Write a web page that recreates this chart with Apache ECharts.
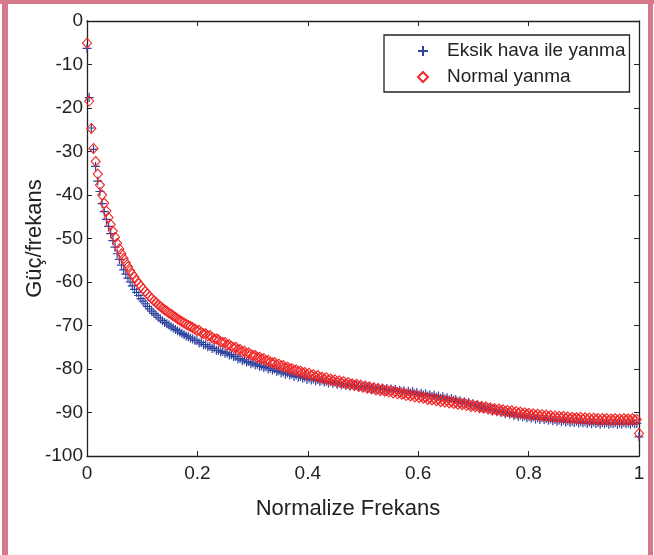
<!DOCTYPE html>
<html>
<head>
<meta charset="utf-8">
<script src="https://cdn.jsdelivr.net/npm/echarts@6/dist/echarts.min.js"></script>
<style>
  html, body { margin: 0; padding: 0; background: #fff; }
  #chart { width: 654px; height: 555px; }
  .band { position: absolute; background: #d4788a; }
</style>
</head>
<body>
<div class="band" style="left:0;top:0;width:654px;height:4px"></div>
<div class="band" style="left:2px;top:0;width:6px;height:555px"></div>
<div class="band" style="left:648px;top:0;width:5px;height:555px"></div>
<div id="chart"></div>
<script>
// Güç spektrumu, 257 frekans noktasi (0..1 normalize)
const seriesNames = ['Eksik hava ile yanma', 'Normal yanma']

const powerEksik = [
  -6.3, -17.6, -24.6, -29.5, -33.4, -36.8, -39.2, -42.0, -43.8, -45.6, -47.2,
  -48.9, -50.5, -52.0, -53.5, -54.8,
  -56.1, -57.2, -58.2, -59.1, -60.0,
  -60.9, -61.7, -62.4, -63.1, -63.8,
  -64.4, -65.0, -65.6, -66.2, -66.7,
  -67.2, -67.6, -68.1, -68.5, -68.9,
  -69.3, -69.6, -69.9, -70.3, -70.6,
  -70.9, -71.2, -71.5, -71.8, -72.1,
  -72.4, -72.6, -72.9, -73.1, -73.4,
  -73.5, -74.0, -73.9, -74.4, -74.4, -74.9, -74.8, -75.3, -75.2, -75.7,
  -75.7, -76.1, -76.0, -76.4, -76.3, -76.8, -76.7, -77.2, -77.1, -77.7,
  -77.6, -78.1, -77.9, -78.4, -78.3, -78.8, -78.6, -79.1, -78.9, -79.4,
  -79.3, -79.7, -79.5, -80.0, -79.8, -80.3, -80.0, -80.6, -80.4, -80.9,
  -80.7, -81.2, -80.9, -81.4, -81.2, -81.7, -81.4, -81.9, -81.7, -82.1,
  -81.9, -82.4, -82.1, -82.5, -82.3, -82.7, -82.4, -82.9, -82.6, -83.0,
  -82.8, -83.2, -82.9, -83.3, -83.0, -83.5, -83.2, -83.7, -83.4, -83.8,
  -83.5, -83.9, -83.6, -84.0, -83.8, -84.2, -83.9, -84.3, -84.0, -84.4,
  -84.1, -84.5, -84.2, -84.6, -84.3, -84.7, -84.4, -84.8, -84.5, -84.9,
  -84.6, -85.0, -84.7, -85.2, -84.9, -85.3, -85.0, -85.5, -85.1, -85.5,
  -85.2, -85.7, -85.4, -85.9, -85.6, -86.0, -85.7, -86.2, -85.9, -86.3,
  -86.0, -86.5, -86.2, -86.7, -86.4, -86.9, -86.6, -87.1, -86.8, -87.2,
  -87.0, -87.5, -87.3, -87.8, -87.5, -88.0, -87.7, -88.3, -88.0, -88.4,
  -88.3, -88.8, -88.6, -89.1, -88.8, -89.3, -89.1, -89.6, -89.3, -89.8,
  -89.6, -90.0, -89.8, -90.3, -90.0, -90.4, -90.2, -90.7, -90.4, -90.9,
  -90.6, -91.0, -90.8, -91.2, -90.9, -91.3, -91.0, -91.5, -91.2, -91.6,
  -91.2, -91.6, -91.4, -91.8, -91.5, -91.9, -91.6, -92.0, -91.7, -92.1,
  -91.8, -92.2, -91.9, -92.3, -92.0, -92.3, -92.0, -92.4, -92.1, -92.4,
  -92.1, -92.5, -92.2, -92.6, -92.2, -92.5, -92.3, -92.7, -92.3, -92.6,
  -92.3, -92.7, -92.4, -92.6, -92.3, -92.7, -92.4, -92.7, -92.3, -92.6, -92.4, -92.7, -92.3, -92.6, -92.5,
  -95.6
]

const powerNormal = [
  -5.1, -18.4, -24.7, -29.3, -32.3, -35.2, -37.7, -40.0, -41.9, -43.7, -45.2,
  -46.8, -48.3, -49.7, -51.1, -52.4,
  -53.5, -54.6, -55.6, -56.5, -57.4,
  -58.2, -58.9, -59.7, -60.4, -61.0,
  -61.6, -62.2, -62.7, -63.3, -63.8,
  -64.3, -64.7, -65.2, -65.6, -66.0,
  -66.4, -66.7, -67.1, -67.4, -67.8,
  -68.1, -68.5, -68.8, -69.1, -69.4,
  -69.7, -70.0, -70.2, -70.5, -70.8,
  -71.2, -71.1, -71.6, -71.9, -71.9, -72.4, -72.3, -72.8, -73.1, -73.1,
  -73.3, -73.8, -73.9, -73.9, -74.5, -74.4, -74.8, -75.1, -75.0, -75.6,
  -75.5, -76.0, -75.9, -76.4, -76.3, -76.7, -76.9, -76.9, -77.4, -77.3,
  -77.7, -77.6, -78.1, -78.0, -78.4, -78.6, -78.5, -79.0, -78.9, -79.3,
  -79.2, -79.7, -79.6, -80.0, -79.9, -80.3, -80.2, -80.6, -80.5, -80.9,
  -80.8, -81.3, -81.0, -81.5, -81.3, -81.8, -81.5, -82.0, -81.9, -82.3,
  -82.0, -82.5, -82.3, -82.7, -82.5, -83.0, -82.7, -83.2, -82.9, -83.4,
  -83.1, -83.6, -83.4, -83.8, -83.5, -84.0, -83.7, -84.2, -83.9, -84.4,
  -84.1, -84.6, -84.3, -84.8, -84.5, -85.0, -84.6, -85.1, -84.9, -85.3,
  -85.0, -85.5, -85.2, -85.7, -85.4, -85.8, -85.6, -86.1, -85.8, -86.2,
  -85.9, -86.4, -86.1, -86.6, -86.3, -86.7, -86.5, -87.0, -86.7, -87.1,
  -86.8, -87.3, -87.0, -87.5, -87.1, -87.6, -87.3, -87.8, -87.5, -87.9,
  -87.6, -88.1, -87.8, -88.2, -87.9, -88.4, -88.1, -88.6, -88.3, -88.7,
  -88.4, -88.9, -88.6, -89.0, -88.7, -89.2, -88.9, -89.4, -89.1, -89.5,
  -89.2, -89.6, -89.4, -89.8, -89.5, -89.9, -89.6, -90.1, -89.8, -90.2,
  -89.9, -90.3, -90.1, -90.4, -90.2, -90.6, -90.3, -90.7, -90.4, -90.8,
  -90.5, -90.9, -90.6, -91.0, -90.7, -91.1, -90.8, -91.2, -90.9, -91.2,
  -90.9, -91.3, -91.0, -91.4, -91.1, -91.4, -91.2, -91.5, -91.1, -91.5,
  -91.2, -91.6, -91.3, -91.7, -91.3, -91.6, -91.4, -91.8, -91.4, -91.7,
  -91.4, -91.8, -91.5, -91.7, -91.4, -91.8, -91.5, -91.8, -91.4, -91.7, -91.5, -91.8, -91.4, -91.7, -91.6,
  -94.8
]

const xTicks = [0, 0.2, 0.4, 0.6, 0.8, 1]
const yTicks = [-100, -90, -80, -70, -60, -50, -40, -30, -20, -10, 0]

const FONT = '"Liberation Sans", Arial, Helvetica, sans-serif'
const BLUE = '#2f449f'
const RED = '#f02828'
const AXIS = '#222222'

// frekans ekseni: her nokta 0..1 araliginda esit adimli bir bin
function toPoints(values) {
  const n = values.length - 1
  return values.map((v, i) => [i / n, v])
}

const chart = echarts.init(document.getElementById('chart'), null, { renderer: 'canvas' })

const axisCommon = {
  axisLine: { show: true, onZero: false, lineStyle: { color: AXIS, width: 1.3 } },
  axisTick: { show: true, inside: true, length: 5, lineStyle: { color: AXIS, width: 1 } },
  splitLine: { show: false },
}

const option = {
  animation: false,
  backgroundColor: 'transparent',
  grid: { left: 87, right: 15, top: 21, bottom: 99, containLabel: false },
  legend: {
    orient: 'vertical',
    left: 384,
    top: 35,
    padding: [6, 4, 5, 33],
    itemWidth: 10,
    itemHeight: 10,
    itemGap: 6,
    backgroundColor: '#fff',
    borderColor: AXIS,
    borderWidth: 1.3,
    textStyle: { fontFamily: FONT, fontSize: 19, color: AXIS, lineHeight: 20, padding: [0, 0, 0, 14] },
    data: seriesNames,
  },
  xAxis: [
    Object.assign({}, axisCommon, {
      type: 'value', position: 'bottom', min: xTicks[0], max: xTicks[xTicks.length - 1], interval: 0.2,
      axisLabel: { fontFamily: FONT, fontSize: 19, color: AXIS, margin: 8 },
      name: 'Normalize Frekans',
      nameLocation: 'middle',
      nameGap: 42,
      nameTextStyle: { fontFamily: FONT, fontSize: 22, color: AXIS, padding: [0, 30, 0, 0] },
    }),
    Object.assign({}, axisCommon, {
      type: 'value', position: 'top', min: 0, max: 1, interval: 0.2,
      axisLabel: { show: false },
    }),
  ],
  yAxis: [
    Object.assign({}, axisCommon, {
      type: 'value', position: 'left', min: yTicks[0], max: yTicks[yTicks.length - 1], interval: 10,
      axisLabel: { fontFamily: FONT, fontSize: 19, color: AXIS, margin: 4 },
      name: 'Güç/frekans',
      nameLocation: 'middle',
      nameGap: 41,
      nameMoveOverlap: false,
      nameTextStyle: { fontFamily: FONT, fontSize: 22, color: AXIS },
    }),
    Object.assign({}, axisCommon, {
      type: 'value', position: 'right', min: -100, max: 0, interval: 10,
      axisLabel: { show: false },
    }),
  ],
  series: [
    {
      name: seriesNames[0],
      type: 'scatter',
      data: toPoints(powerEksik),
      symbol: 'path://M0,5L10,5M5,0L5,10',
      symbolSize: 9,
      itemStyle: { color: 'rgba(0,0,0,0)', borderColor: BLUE, borderWidth: 1.2, opacity: 1 },
      emphasis: { disabled: true },
      z: 2,
    },
    {
      name: seriesNames[1],
      type: 'scatter',
      data: toPoints(powerNormal),
      symbol: 'diamond',
      symbolSize: [9, 10],
      itemStyle: { color: 'rgba(0,0,0,0)', borderColor: RED, borderWidth: 1.1, opacity: 1 },
      emphasis: { disabled: true },
      z: 3,
    },
  ],
}

chart.setOption(option)
</script>
</body>
</html>
